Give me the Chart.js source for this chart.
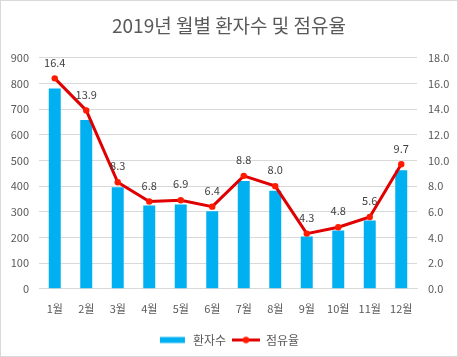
<!DOCTYPE html>
<html><head><meta charset="utf-8">
<script src="https://cdn.jsdelivr.net/npm/chart.js@4"></script>
<style>
html,body{margin:0;padding:0;background:#fff;}
#wrap{position:absolute;left:0;top:0;width:456px;height:355px;border:1px solid #d9d9d9;}
</style></head><body>
<div id="wrap"><canvas id="c" width="456" height="355"></canvas></div>
<script>
const categories = ['1월','2월','3월','4월','5월','6월','7월','8월','9월','10월','11월','12월'];
const patients = [780, 658, 396, 325, 328, 302, 420, 382, 204, 227, 266, 462];
const shares = [16.4, 13.9, 8.3, 6.8, 6.9, 6.4, 8.8, 8.0, 4.3, 4.8, 5.6, 9.7];
const leftTicks = [0,100,200,300,400,500,600,700,800,900];
const rightTicks = [0,2,4,6,8,10,12,14,16,18];
const FONT = "'Noto Sans CJK KR','Noto Sans',sans-serif";
const BAR_COLOR = '#00b0f0', LINE_COLOR = '#e00000', POINT_COLOR = '#ff1a00';

function makeIcon(kind){
  const c = document.createElement('canvas');
  c.width = 28; c.height = 9;
  const g = c.getContext('2d');
  if(kind==='bar'){
    g.fillStyle = BAR_COLOR; g.fillRect(1,1.5,25,6);
  } else {
    g.strokeStyle = LINE_COLOR; g.lineWidth = 3;
    g.beginPath(); g.moveTo(0,4.5); g.lineTo(28,4.5); g.stroke();
    g.fillStyle = POINT_COLOR; g.beginPath(); g.arc(14,4.5,3.2,0,Math.PI*2); g.fill();
  }
  return c;
}
const barIcon = makeIcon('bar'), lineIcon = makeIcon('line');

const labelPlugin = {
  id:'pointLabels',
  afterDatasetsDraw(chart){
    const ctx = chart.ctx;
    const meta = chart.getDatasetMeta(0);
    ctx.save();
    ctx.font = "11px " + FONT;
    ctx.fillStyle = '#404040';
    ctx.textAlign = 'center';
    ctx.textBaseline = 'middle';
    meta.data.forEach((pt,i)=>{
      ctx.fillText(shares[i].toFixed(1), pt.x, pt.y - 16);
    });
    ctx.restore();
  }
};

new Chart(document.getElementById('c'), {
  data:{
    labels: categories,
    datasets:[
      {type:'line', label:'점유율', data: shares, yAxisID:'y1', borderColor:LINE_COLOR, backgroundColor:POINT_COLOR,
       borderWidth:3, pointRadius:3.2, pointBorderWidth:0, pointBackgroundColor:POINT_COLOR, tension:0, order:0},
      {type:'bar', label:'환자수', data: patients, yAxisID:'y', backgroundColor:BAR_COLOR, categoryPercentage:0.76, barPercentage:0.5, order:1}
    ]
  },
  plugins:[labelPlugin],
  options:{
    responsive:false, animation:false,
    layout:{padding:{left:0,right:0,top:0,bottom:0}},
    plugins:{
      title:{display:true, text:'2019년 월별 환자수 및 점유율', color:'#595959', font:{family:FONT,size:19,weight:'normal'}, padding:{top:13,bottom:21}},
      legend:{position:'bottom', labels:{color:'#595959', font:{family:FONT,size:12}, usePointStyle:true, pointStyleWidth:28, boxHeight:9, padding:6,
        generateLabels(chart){
          return [
            {text:'환자수', pointStyle:barIcon, fillStyle:BAR_COLOR, strokeStyle:BAR_COLOR, lineWidth:0, datasetIndex:1, fontColor:'#595959'},
            {text:'점유율', pointStyle:lineIcon, fillStyle:LINE_COLOR, strokeStyle:LINE_COLOR, lineWidth:0, datasetIndex:0, fontColor:'#595959'}
          ];
        }}},
      tooltip:{enabled:false}
    },
    scales:{
      x:{grid:{display:false, drawTicks:false}, border:{display:true,color:'#d9d9d9'}, ticks:{color:'#595959', font:{family:FONT,size:11}, padding:13}},
      y:{position:'left', min:0, max:900, afterBuildTicks(s){s.ticks = leftTicks.map(v=>({value:v}));},
         grid:{color:'#d9d9d9', drawTicks:false}, border:{display:false},
         ticks:{color:'#595959', font:{family:FONT,size:11}, padding:10, callback:v=>String(v)},
         afterFit(s){s.width=38;}},
      y1:{position:'right', min:0, max:18, afterBuildTicks(s){s.ticks = rightTicks.map(v=>({value:v}));},
         grid:{display:false, drawTicks:false}, border:{display:false},
         ticks:{color:'#595959', font:{family:FONT,size:11}, padding:11, callback:v=>v.toFixed(1)},
         afterFit(s){s.width=40;}}
    }
  }
});
</script>
</body></html>
